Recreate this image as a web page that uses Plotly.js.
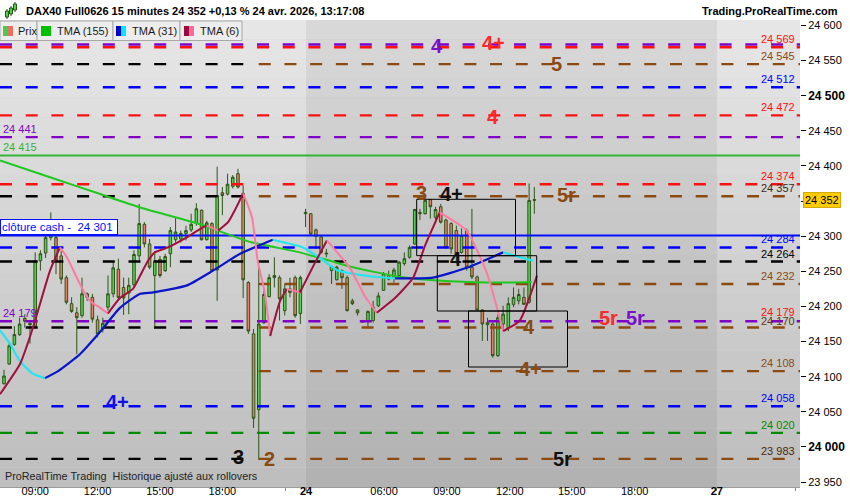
<!DOCTYPE html>
<html><head><meta charset="utf-8">
<script src="https://cdn.plot.ly/plotly-3.0.1.min.js"></script>
<style>html,body{margin:0;padding:0;background:#fff;}#chart{width:850px;height:500px;}</style>
</head><body><div id="chart"></div>
<script>
// ---------------- DATA ----------------
const barIndex = [0,1,2,3,4,5,6,7,8,9,10,11,12,13,14,15,16,17,18,19,20,21,22,23,24,25,26,27,28,29,30,31,32,33,34,35,36,37,38,39,40,41,42,43,44,45,46,47,48,49,50,51,52,53,54,55,56,57,58,59,60,61,62,63,64,65,66,67,68,69,70,71,72,73,74,75,76,77,78,79,80,81,82,83,84,85,86,87,88,89,90,91,92,93,94,95,96,97,98,99,100,101,102];
const openP  = [24090,24118,24146,24160,24183,24176,24172,24265,24276,24298,24298,24272,24241,24204,24191,24187,24218,24213,24181,24168,24199,24218,24253,24227,24219,24231,24272,24317,24289,24244,24267,24251,24275,24295,24296,24304,24309,24318,24337,24295,24318,24252,24362,24360,24371,24389,24361,24234,24161,24053,24177,24214,24241,24241,24194,24225,24241,24190,24332,24332,24309,24299,24276,24251,24238,24251,24241,24208,24195,24179,24180,24180,24201,24223,24244,24241,24244,24261,24270,24289,24334,24332,24352,24327,24342,24323,24318,24308,24277,24308,24256,24242,24195,24174,24175,24130,24175,24170,24203,24208,24213,24206,24351];
const highP  = [24110,24149,24172,24184,24189,24180,24277,24280,24306,24334,24306,24280,24244,24213,24199,24241,24220,24218,24187,24184,24244,24265,24268,24241,24241,24280,24346,24320,24296,24279,24272,24275,24313,24327,24308,24315,24332,24347,24338,24322,24320,24399,24370,24389,24387,24396,24372,24236,24168,24256,24227,24246,24270,24244,24232,24241,24244,24244,24339,24333,24311,24300,24282,24258,24258,24253,24244,24211,24196,24181,24194,24208,24220,24249,24251,24255,24265,24277,24287,24339,24339,24352,24353,24342,24346,24325,24320,24315,24311,24311,24339,24244,24196,24184,24177,24189,24201,24213,24227,24225,24227,24375,24370];
const lowP   = [24089,24117,24144,24158,24170,24147,24170,24251,24269,24294,24246,24232,24203,24191,24132,24184,24208,24177,24156,24163,24194,24213,24208,24188,24189,24227,24265,24284,24253,24168,24241,24249,24256,24291,24291,24294,24306,24315,24294,24294,24249,24208,24330,24358,24368,24368,24212,24161,24027,23982,24175,24213,24227,24180,24187,24213,24184,24175,24313,24302,24282,24275,24270,24232,24237,24225,24193,24202,24187,24177,24171,24177,24199,24222,24237,24234,24241,24258,24268,24288,24323,24331,24325,24320,24318,24282,24275,24261,24275,24251,24239,24194,24151,24151,24127,24128,24165,24165,24199,24203,24203,24204,24332];
const closeP = [24101,24144,24160,24175,24179,24174,24265,24275,24298,24308,24266,24239,24206,24193,24184,24218,24213,24182,24161,24176,24218,24255,24213,24212,24230,24274,24318,24289,24256,24265,24244,24271,24308,24306,24304,24308,24317,24339,24295,24319,24251,24358,24358,24374,24384,24370,24238,24165,24041,24175,24217,24241,24244,24211,24225,24220,24187,24241,24334,24303,24300,24277,24275,24257,24256,24241,24194,24204,24191,24178,24193,24199,24215,24247,24239,24252,24263,24268,24284,24338,24332,24351,24342,24338,24320,24284,24282,24275,24301,24256,24242,24195,24175,24177,24130,24184,24189,24204,24213,24217,24203,24351,24352];

// Moving averages (bar index, price)
const tma155X = [-0.77,8.85,18.5,26.2,37.7,47.3,56.9,62.7,66.5,76.2,85.8,95.4,101.5];
const tma155Y = [24408,24384,24360,24341,24317,24292,24277,24265,24257,24242,24236,24234,24235];
const tma31X = [-0.77,1.15,3.08,5.58,7.88,10.4,14.6,18.5,22.3,26.2,28.7,35.2,40.2,45.4,51.7,57.5,60.8,64.0,70.4,75.2,82.5,89.0,96.0,101.7];
const tma31Y = [24166,24147,24122,24104,24098,24108,24132,24164,24198,24218,24220,24230,24251,24275,24295,24284,24269,24252,24243,24240,24241,24255,24277,24265];
const tma6X = [-0.77,3.08,5.58,8.85,10.77,12.1,14.6,16.5,18.5,20.0,22.3,24.8,26.2,27.7,29.0,31.5,34.8,38.1,39.0,41.2,43.1,44.4,46.0,47.7,48.8,50.2,51.2,53.1,54.4,56.9,59.8,62.1,66.5,69.4,71.7,75.2,78.7,81.0,83.8,89.0,92.9,96.0,99.2,102.5];
const tma6Y = [24075,24118,24170,24251,24284,24270,24232,24208,24198,24190,24212,24225,24244,24265,24277,24284,24297,24312,24315,24308,24320,24337,24361,24327,24265,24218,24158,24208,24225,24220,24262,24294,24255,24215,24191,24212,24241,24287,24334,24308,24247,24165,24180,24244];

// Horizontal price levels
const levelPrices = [24573,24569,24545,24512,24472,24441,24415,24374,24357,24301,24284,24264,24232,24179,24170,24108,24058,24020,23983];
const rightLabelPrices = [24569,24545,24512,24472,24374,24357,24284,24264,24232,24179,24170,24108,24058,24020,23983];
const leftLabelPrices = [24441,24415,24179];
const cashClose = 24301;
const lastPrice = 24352;

// Axis ticks
const yTickVals = [23950,24000,24050,24100,24150,24200,24250,24300,24350,24400,24450,24500,24550,24600];
const yBold = [24000,24500];
const yHidden = [24350];
const xTickVals = [6,18,30,42,54.2,58.1,73.1,85.2,97.3,109.2,121.3,137.1,152.3];
const xTickText = ['09:00','12:00','15:00','18:00','','<b>24</b>','06:00','09:00','12:00','15:00','18:00','<b>27</b>',''];

// ---------------- STYLE ----------------
const RED='#ff1010', BLACK='#000000', BLUE='#0000ff', PURPLE='#8000c8', BROWN='#8c4a10', GREEN_D='#008c00', GREEN_S='#36b436', BLUE_S='#0010ff';
const levelStyle = [
 {l:PURPLE,r:PURPLE},{l:RED,r:RED},{l:BLACK,r:BROWN},{l:BLUE,r:BLUE},{l:RED,r:RED},{l:PURPLE,r:PURPLE},
 {l:GREEN_S,r:GREEN_S,solid:true},{l:RED,r:RED},{l:BLACK,r:BROWN},{l:BLUE_S,r:BLUE_S,solid:true},{l:BLUE,r:BLUE},
 {l:BLACK,r:BLACK},{l:null,r:BROWN},{l:PURPLE,r:PURPLE},{l:BLACK,r:BROWN},{l:null,r:BROWN},{l:BLUE,r:BLUE},
 {l:GREEN_D,r:GREEN_D},{l:BLACK,r:BROWN}
];
const rightLabelColors = [RED,BROWN,BLUE,RED,RED,'#3b2a12',BLUE,BLACK,BROWN,RED,'#5a3a10',BROWN,BLUE,GREEN_D,'#4a2a0a'];
const rightLabelShift = [0,0,0,0,0,0,0,0,0,1,-1,0,0,0,0];
const leftLabelColors = [PURPLE,GREEN_S,PURPLE];

const XL=-0.77, XR=153.1, XSPLIT_L=47.3, XSPLIT_R=49.0;
const PX = x => x/800, PY = y => (487-y)/467;
const fmt = v => String(v).replace(/\B(?=(\d{3})+(?!\d))/g,' ');
const FONT='Liberation Sans, Arial, sans-serif';

const traces = [];
traces.push({
  type:'candlestick', x:barIndex, open:openP, high:highP, low:lowP, close:closeP,
  increasing:{fillcolor:'#4fd44f', line:{color:'#2b5516', width:1}},
  decreasing:{fillcolor:'#ee7b6b', line:{color:'#2b5516', width:1}},
  whiskerwidth:0, hoverinfo:'skip', showlegend:false
});

levelPrices.forEach((p,k)=>{
  const st = levelStyle[k];
  const dash = st.solid ? 'solid' : '12px,13.7px';
  const w = st.solid ? 2 : 2.4;
  if (st.l === st.r) {
    traces.push({type:'scatter',mode:'lines',x:[XL,XR],y:[p,p],line:{color:st.l,width:w,dash},hoverinfo:'skip',showlegend:false});
  } else {
    if (st.l) traces.push({type:'scatter',mode:'lines',x:[XL,XSPLIT_L],y:[p,p],line:{color:st.l,width:w,dash},hoverinfo:'skip',showlegend:false});
    traces.push({type:'scatter',mode:'lines',x:[XSPLIT_R,XR],y:[p,p],line:{color:st.r,width:w,dash},hoverinfo:'skip',showlegend:false});
  }
});

traces.push({type:'scatter',mode:'lines',x:tma155X,y:tma155Y,line:{color:'#1ec81e',width:2,shape:'spline',smoothing:0.6},hoverinfo:'skip',showlegend:false});

function slopeTraces(xs, ys, up, down, width){
  const out=[]; const sg = k => (ys[k+1] >= ys[k] ? 1 : -1);
  let start=0, cur=sg(0);
  for (let k=1;k<xs.length;k++){
    const s = k < xs.length-1 ? sg(k) : 0;
    if (s !== cur){
      out.push({type:'scatter',mode:'lines',x:xs.slice(start,k+1),y:ys.slice(start,k+1),
        line:{color:cur>0?up:down,width,shape:'spline',smoothing:0.5},hoverinfo:'skip',showlegend:false});
      start=k; cur=s;
    }
  }
  return out;
}
traces.push(...slopeTraces(tma31X,tma31Y,'#0a14c8','#22e6f0',2.2));
traces.push(...slopeTraces(tma6X,tma6Y,'#a0103c','#ff7aa0',2));

// ---------------- SHAPES ----------------
const shapes=[];
const NB=24;
for(let b=0;b<NB;b++){
  const t=b/(NB-1);
  const c=Math.round(0xe6 + (0xbe-0xe6)*t);
  shapes.push({type:'rect',xref:'paper',yref:'paper',x0:0,x1:1,y0:1-(b+1)/NB,y1:1-b/NB,fillcolor:`rgb(${c},${c},${c})`,line:{width:0},layer:'below'});
}
shapes.push({type:'rect',xref:'paper',yref:'paper',x0:PX(306),x1:PX(717),y0:0,y1:1,fillcolor:'rgba(0,0,0,0.06)',line:{width:0},layer:'below'});
[[416.7,199.3,515.5,255.7],[437.3,255.7,536.7,311],[468.5,311,567.5,367]].forEach(r=>{
  shapes.push({type:'rect',xref:'paper',yref:'paper',x0:PX(r[0]),x1:PX(r[2]),y0:PY(r[3]),y1:PY(r[1]),line:{color:'#000',width:1},fillcolor:'rgba(0,0,0,0)',layer:'above'});
});
const legBoxes=[[0,37],[37,113],[113,180],[180,242]];
legBoxes.forEach(b=>shapes.push({type:'rect',xref:'paper',yref:'paper',x0:PX(b[0]),x1:PX(b[1]),y0:PY(40.5),y1:PY(21),fillcolor:'#ededed',line:{color:'#a8a8a8',width:1},layer:'above'}));
const icons=[[3,8,'#4cc94c'],[8,13,'#e87060'],[41,51,'#00c000'],[116,121,'#0000c8'],[121,126,'#00e8ff'],[184,189,'#9b0a3c'],[189,194,'#ff6a9a']];
icons.forEach(ic=>shapes.push({type:'rect',xref:'paper',yref:'paper',x0:PX(ic[0]),x1:PX(ic[1]),y0:PY(36),y1:PY(26),fillcolor:ic[2],line:{width:0},layer:'above'}));
[[5.5,8.5,11,17,9,19],[9.5,12.5,8,14,6,16],[13.5,16.5,4,10,2,12]].forEach(c=>{
  shapes.push({type:'line',xref:'paper',yref:'paper',x0:PX((c[0]+c[1])/2),x1:PX((c[0]+c[1])/2),y0:PY(c[5]),y1:PY(c[4]),line:{color:'#2b5516',width:1},layer:'above'});
  shapes.push({type:'rect',xref:'paper',yref:'paper',x0:PX(c[0]),x1:PX(c[1]),y0:PY(c[3]),y1:PY(c[2]),fillcolor:'#4fd44f',line:{color:'#2b5516',width:1},layer:'above'});
});

// ---------------- ANNOTATIONS ----------------
const ann=[];
const A=(o)=>ann.push(Object.assign({showarrow:false},o));
A({xref:'paper',yref:'paper',x:PX(24),y:PY(11),xanchor:'left',yanchor:'middle',text:'<b>DAX40 Full0626 15 minutes 24 352 +0,13 % 24 avr. 2026, 13:17:08</b>',font:{family:FONT,size:11,color:'#000'}});
A({xref:'paper',yref:'paper',x:PX(840),y:PY(11),xanchor:'right',yanchor:'middle',text:'<b>Trading.ProRealTime.com</b>',font:{family:FONT,size:11,color:'#000'}});
[['Prix',16],['TMA (155)',55],['TMA (31)',130],['TMA (6)',198]].forEach(l=>A({xref:'paper',yref:'paper',x:PX(l[1]),y:PY(31),xanchor:'left',yanchor:'middle',text:l[0],font:{family:FONT,size:11,color:'#1a1a1a'}}));
rightLabelPrices.forEach((p,k)=>A({xref:'paper',yref:'y',x:PX(797),y:p,xanchor:'right',yanchor:'bottom',yshift:rightLabelShift[k],text:fmt(p),font:{family:FONT,size:11,color:rightLabelColors[k]}}));
leftLabelPrices.forEach((p,k)=>A({xref:'paper',yref:'y',x:PX(1),y:p,xanchor:'left',yanchor:'bottom',yshift:0,text:fmt(p),font:{family:FONT,size:11,color:leftLabelColors[k]}}));
A({xref:'paper',yref:'y',x:0,y:cashClose,xanchor:'left',yanchor:'bottom',yshift:1,text:'clôture cash -\u00a0 '+fmt(cashClose)+'\u00a0',bgcolor:'#ffffff',bordercolor:'#0010ff',borderwidth:1,borderpad:1,font:{family:FONT,size:11.5,color:'#0010ff'}});
A({xref:'paper',yref:'y',x:1,y:lastPrice,xanchor:'left',yanchor:'middle',xshift:3,text:fmt(lastPrice),bgcolor:'#ffcc00',bordercolor:'#d8a800',borderwidth:1,borderpad:1,font:{family:FONT,size:11,color:'#000'}});
A({xref:'paper',yref:'paper',x:PX(3),y:PY(476),xanchor:'left',yanchor:'middle',text:'ProRealTime Trading\u00a0 Historique ajusté aux rollovers',font:{family:FONT,size:10.8,color:'#222'}});

const PURPLE_T='#7a10c8', RED_T='#ff2a2a', BROWN_T='#8b4a10', BLUE_T='#1010ee', BLACK_T='#111';
const bigLabels=[
 ['4',PURPLE_T,437,46],['4+',RED_T,493,43],['5',BROWN_T,556,64],['4',RED_T,493,117],
 ['3',BROWN_T,421,193],['4+',BLACK_T,451,194],['5r',BROWN_T,566,195],['4',BLACK_T,456,259],
 ['5r',RED_T,608,318],['5r',PURPLE_T,635,318],['4',BROWN_T,529,327],['4+',BROWN_T,530,369],
 ['4+',BLUE_T,117,402],['3',BLACK_T,238,457],['2',BROWN_T,269,459],['5r',BLACK_T,562,459]
];
bigLabels.forEach(b=>A({xref:'paper',yref:'paper',x:PX(b[2]),y:PY(b[3]),xanchor:'center',yanchor:'middle',text:'<b>'+b[0]+'</b>',font:{family:FONT,size:20,color:b[1]}}));

const yTickText = yTickVals.map(v => yHidden.includes(v) ? '' : (yBold.includes(v) ? '<span style="font-size:12px"><b>'+fmt(v)+'</b></span>' : fmt(v)));

const layout = {
  width:850,height:500,
  margin:{l:0,r:50,t:20,b:13,pad:0},
  paper_bgcolor:'#ffffff', plot_bgcolor:'#d4d4d4',
  showlegend:false,
  xaxis:{range:[XL,XR],tickvals:xTickVals,ticktext:xTickText,ticks:'outside',ticklen:3,tickcolor:'#888',
    showline:true,linecolor:'#9a9a9a',linewidth:1,showgrid:false,zeroline:false,rangeslider:{visible:false},
    tickfont:{family:FONT,size:11,color:'#000'},ticklabelstandoff:-9,fixedrange:true},
  yaxis:{side:'right',range:[23943,24607.8],tickvals:yTickVals,ticktext:yTickText,ticks:'outside',ticklen:5,tickcolor:'#000',
    tickfont:{family:FONT,size:11,color:'#000'},showgrid:false,zeroline:false,showline:false,fixedrange:true},
  shapes:shapes, annotations:ann
};
Plotly.newPlot('chart',traces,layout,{displayModeBar:false,staticPlot:true});
</script></body></html>
